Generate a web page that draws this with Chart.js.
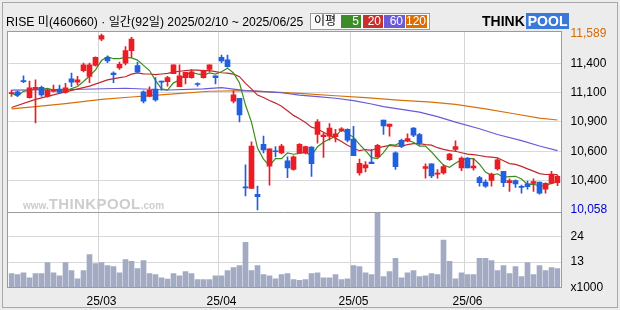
<!DOCTYPE html>
<html>
<head>
<meta charset="utf-8">
<script src="https://cdn.jsdelivr.net/npm/chart.js@4.4.1/dist/chart.umd.min.js"></script>
<style>
  html, body { margin: 0; padding: 0; background: #ececec; }
  #wrap { position: relative; width: 620px; height: 310px; overflow: hidden;
          font-family: "Liberation Sans", "Noto Sans CJK KR", sans-serif; }
  #frame { position: absolute; left: 2px; top: 2px; width: 616px; height: 306px;
           border: 1px solid #a8a8a8; box-sizing: border-box; }
  canvas { position: absolute; left: 0; top: 0; }
  #title { position: absolute; left: 6px; top: 14px; font-size: 12.2px; line-height: 16px;
           color: #000; white-space: nowrap; }
  #maLegend { position: absolute; left: 310px; top: 13px; width: 120px; height: 17px;
              border: 1px solid #9a9a9a; background: #fafafa; box-sizing: border-box; }
  #maLegend span { position: absolute; top: 1px; height: 13px; line-height: 13px; white-space: nowrap;
                   font-size: 12px; color: #fff; text-align: right; padding-right: 2px; box-sizing: border-box; }
  #maLegend .lbl { color: #000; left: 3px; width: 26px; text-align: left; padding: 0; }
  #logo { position: absolute; left: 482px; top: 14px; font-weight: bold; font-size: 14px;
          line-height: 14px; white-space: nowrap; }
  #logo .pool { background: #3b79d8; color: #fff; padding: 0 2px; margin-left: 1px; }
  #mark { position: absolute; left: 23px; top: 195px; color: #cdcdcd; white-space: nowrap;
          font-weight: bold; }
  #mark .s { font-size: 10px; }
  #mark .b { font-size: 15px; letter-spacing: 0.4px; }
</style>
</head>
<body>
<div id="wrap">
  <div id="frame"></div>
  <canvas id="chart" width="620" height="310"></canvas>
  <div id="title">RISE 미(460660) · 일간(92일) 2025/02/10 ~ 2025/06/25</div>
  <div id="maLegend">
    <span class="lbl">이평</span>
    <span style="left:30px;width:20px;background:#3c8c28">5</span>
    <span style="left:52px;width:20px;background:#c8302c">20</span>
    <span style="left:73px;width:21px;background:#6a5ad8">60</span>
    <span style="left:95px;width:21px;background:#dc6e00">120</span>
  </div>
  <div id="logo">THINK<span class="pool">POOL</span></div>
  <div id="mark"><span class="s">www.</span><span class="b">THINKPOOL</span><span class="s">.com</span></div>
</div>
<script>
// trading days 2025/02/10 ~ 2025/06/25 (92)
const dates = [
  '2025/02/10', '2025/02/11', '2025/02/12', '2025/02/13', '2025/02/14', '2025/02/17', '2025/02/18',
  '2025/02/19', '2025/02/20', '2025/02/21', '2025/02/24', '2025/02/25', '2025/02/26', '2025/02/27',
  '2025/02/28',
  '2025/03/04', '2025/03/05', '2025/03/06', '2025/03/07', '2025/03/10', '2025/03/11', '2025/03/12',
  '2025/03/13', '2025/03/14', '2025/03/17', '2025/03/18', '2025/03/19', '2025/03/20', '2025/03/21',
  '2025/03/24', '2025/03/25', '2025/03/26', '2025/03/27', '2025/03/28', '2025/03/31',
  '2025/04/01', '2025/04/02', '2025/04/03', '2025/04/04', '2025/04/07', '2025/04/08', '2025/04/09',
  '2025/04/10', '2025/04/11', '2025/04/14', '2025/04/15', '2025/04/16', '2025/04/17', '2025/04/18',
  '2025/04/21', '2025/04/22', '2025/04/23', '2025/04/24', '2025/04/25', '2025/04/28', '2025/04/29',
  '2025/04/30',
  '2025/05/02', '2025/05/07', '2025/05/08', '2025/05/09', '2025/05/12', '2025/05/13', '2025/05/14',
  '2025/05/15', '2025/05/16', '2025/05/19', '2025/05/20', '2025/05/21', '2025/05/22', '2025/05/23',
  '2025/05/26', '2025/05/27', '2025/05/28', '2025/05/29', '2025/05/30',
  '2025/06/02', '2025/06/04', '2025/06/05', '2025/06/09', '2025/06/10', '2025/06/11', '2025/06/12',
  '2025/06/13', '2025/06/16', '2025/06/17', '2025/06/18', '2025/06/19', '2025/06/20', '2025/06/23',
  '2025/06/24', '2025/06/25'
];

const opens = [
  11070, 11085, 11180, 11035, 11110, 11125, 11045, 11090, 11110, 11080,
  11200, 11170, 11270, 11220, 11315, 11545, 11385, 11250, 11295, 11335,
  11445, 11315, 11085, 11045, 11110, 11180, 11175, 11245, 11130, 11210,
  11210, 11155, 11210, 11280, 11225, 11385, 11365, 11005, 11030, 10255,
  10245, 10195, 10630, 10440, 10570, 10555, 10485, 10410, 10555, 10555,
  10605, 10715, 10695, 10700, 10695, 10750, 10760, 10675, 10380, 10425,
  10475, 10520, 10840, 10785, 10555, 10665, 10660, 10770, 10715, 10420,
  10460, 10370, 10380, 10495, 10585, 10425, 10510, 10425, 10340, 10300,
  10315, 10415, 10395, 10295, 10315, 10260, 10285, 10290, 10300, 10240,
  10290, 10295
];
const highs = [
  11100, 11095, 11225, 11180, 11190, 11135, 11105, 11145, 11145, 11160,
  11250, 11220, 11335, 11335, 11390, 11589, 11400, 11260, 11345, 11480,
  11560, 11345, 11095, 11130, 11210, 11180, 11220, 11320, 11320, 11255,
  11280, 11165, 11275, 11320, 11225, 11405, 11405, 11095, 11030, 10450,
  10650, 10265, 10700, 10590, 10610, 10630, 10520, 10530, 10635, 10615,
  10610, 10845, 10730, 10810, 10760, 10775, 10765, 10785, 10500, 10480,
  10585, 10630, 10840, 10805, 10565, 10675, 10720, 10775, 10725, 10460,
  10460, 10410, 10450, 10550, 10660, 10520, 10515, 10505, 10350, 10320,
  10380, 10505, 10395, 10330, 10320, 10275, 10310, 10330, 10300, 10295,
  10395, 10360
];
const lows = [
  11045, 11045, 11165, 11030, 10815, 11045, 11040, 11085, 11075, 11075,
  11130, 11145, 11260, 11165, 11310, 11530, 11340, 11165, 11280, 11320,
  11385, 11250, 10990, 11045, 11005, 11100, 11135, 11245, 11130, 11155,
  11205, 11135, 11205, 11260, 11155, 11340, 11300, 10990, 10825, 10180,
  10245, 10058, 10555, 10275, 10520, 10545, 10340, 10405, 10550, 10545,
  10350, 10640, 10515, 10665, 10650, 10740, 10650, 10530, 10360, 10390,
  10460, 10515, 10715, 10700, 10410, 10600, 10650, 10695, 10625, 10335,
  10340, 10335, 10370, 10490, 10565, 10400, 10425, 10405, 10265, 10255,
  10265, 10405, 10260, 10220, 10255, 10205, 10240, 10220, 10195, 10205,
  10285, 10270
];
const closes = [
  11075, 11060, 11175, 11120, 11125, 11060, 11100, 11105, 11080, 11120,
  11170, 11190, 11320, 11320, 11385, 11575, 11355, 11235, 11325, 11445,
  11545, 11260, 11005, 11100, 11015, 11170, 11210, 11320, 11225, 11255,
  11260, 11150, 11270, 11320, 11210, 11355, 11305, 11060, 10885, 10250,
  10615, 10175, 10580, 10590, 10565, 10615, 10425, 10520, 10630, 10610,
  10460, 10825, 10710, 10770, 10720, 10765, 10665, 10530, 10465, 10450,
  10460, 10620, 10790, 10805, 10435, 10610, 10680, 10710, 10640, 10435,
  10355, 10380, 10435, 10545, 10610, 10510, 10425, 10440, 10295, 10265,
  10370, 10495, 10295, 10315, 10285, 10255, 10260, 10305, 10205, 10290,
  10370, 10350
];
// volume, x1000
const volumes = [
  8.0, 7.6, 8.4, 6.2, 8.0, 8.0, 12.8, 8.4, 7.1, 12.8,
  9.3, 5.8, 9.3, 16.3, 12.4, 12.8, 11.5, 11.1, 8.4, 14.1,
  13.3, 10.2, 13.7, 8.0, 7.6, 6.2, 5.7, 8.0, 7.1, 8.9,
  8.0, 5.4, 5.4, 5.4, 7.1, 7.1, 9.3, 10.6, 11.5, 21.6,
  9.3, 11.5, 7.6, 7.1, 5.8, 7.6, 8.0, 5.4, 5.1, 5.4,
  8.0, 8.4, 6.2, 6.2, 7.6, 5.4, 5.8, 11.5, 11.1, 8.4,
  7.6, 34.3, 6.7, 8.9, 14.6, 6.2, 8.4, 9.3, 6.7, 7.1,
  8.0, 7.6, 22.5, 13.3, 5.8, 8.4, 7.6, 7.6, 14.6, 14.6,
  13.7, 9.3, 11.5, 8.0, 11.1, 6.7, 12.8, 7.6, 11.5, 9.3,
  10.6, 10.2
];

// moving averages (null = not read, line bridges it)
const ma5 = [
  11075, 11050, 11090, 11100, 11111, 11108, 11116, 11102, 11093, 11092,
  11114, 11132, 11176, 11224, 11277, 11358, 11391, 11374, 11375, 11386,
  11381, 11362, 11316, 11271, 11186, 11111, 11101, 11164, 11188, 11236,
  11254, 11242, 11232, 11251, 11241, 11261, 11292, 11250, 11163, 10971,
  10822, 10596, 10501, 10442, 10505, 10505, 10555, 10543, 10551, 10560,
  10529, 10608, 10647, 10675, 10697, 10757, 10726, 10690, 10629, 10575,
  10514, 10505, 10557, 10626, 10623, 10652, 10664, 10648, 10614, 10614,
  10563, 10504, 10449, 10430, 10465, 10496, 10505, 10506, 10456, 10388,
  10360, 10373, 10344, 10348, 10351, 10328, 10281, 10283, 10267, 10268,
  10291, 10308
];
const ma20 = [
  10950, null, null, null, 11020, null, null, null, null, 11085,
  null, null, null, 11135, null, null, 11190, null, 11210, 11217,
  11240, 11250, 11242, 11241, 11235, 11241, 11247, 11257, 11265, 11271,
  11276, 11274, 11271, 11271, 11262, 11252, 11249, 11240, 11218, 11159,
  11112, 11058, 11036, 11011, 10988, 10961, 10921, 10881, 10851, 10819,
  10779, 10763, 10735, 10707, 10683, 10653, 10621, 10595, 10574, 10584,
  10576, 10599, 10609, 10620, 10613, 10613, 10626, 10635, 10636, 10627,
  10622, 10600, 10586, 10575, 10569, 10556, 10544, 10540, 10532, 10522,
  10518, 10512, 10487, 10462, 10455, 10437, 10416, 10396, 10374, 10367,
  10367, 10366
];
const ma60 = [
  11100, null, null, null, null, null, null, null, null, null,
  11106, null, null, null, null, null, null, null, null, 11117,
  null, null, null, null, null, null, 11102, null, null, null,
  null, null, 11111, null, null, 11122, null, null, null, 11096,
  null, null, 11087, null, null, 11078, null, null, 11058, null,
  null, 11044, null, null, 11030, null, null, 11009, null, null,
  10980, null, 10957, null, null, 10934, null, null, 10910, null,
  null, 10870, null, null, 10823, null, null, null, 10765, null,
  null, 10715, null, null, null, 10662, null, null, 10615, null,
  null, 10575
];
const ma120 = [
  10937, null, null, null, 10958, null, null, null, null, 10984,
  null, null, null, null, null, 11021, null, null, null, null,
  11041, null, null, null, null, null, 11064, null, null, null,
  null, null, null, 11091, null, null, null, null, null, 11096,
  null, null, null, null, 11084, null, null, null, 11073, null,
  null, null, null, null, 11052, null, null, null, null, 11035,
  null, null, null, null, null, 11012, null, null, null, null,
  10997, null, null, null, 10977, null, null, null, null, 10937,
  null, null, null, null, 10893, null, null, null, 10858, null,
  null, 10841
];

// right axis: max/min of the period and the five rounded grid levels between
const priceTicks = [10058, 10313, 10568, 10824, 11079, 11334, 11589];
const priceTickLabels = ['10,058', '10,400', '10,600', '10,900', '11,100', '11,400', '11,589'];
const volTicks = [2, 13, 24];
const volTickLabels = ['x1000', '13', '24'];

const UP = '#ec1c24';
const DOWN = '#1f5fe2';
const candleColors = closes.map((c, i) => c >= opens[i] ? UP : DOWN);
const tickFont = { family: 'Liberation Sans', size: 12 };

function isMonthStart(i) {
    return i > 0 && i < dates.length && dates[i].slice(5, 7) !== dates[i - 1].slice(5, 7);
}

// white plot box, frame and the line between price and volume panels
const plotFrame = {
    id: 'plotFrame',
    beforeDraw(chart) {
        const a = chart.chartArea;
        const ctx = chart.ctx;
        ctx.save();
        ctx.fillStyle = '#ffffff';
        ctx.fillRect(a.left - 1, a.top - 0.5, a.right - a.left + 2.5, a.bottom - a.top + 0.5);
        ctx.restore();
    },
    afterDraw(chart) {
        const ctx = chart.ctx;
        const split = Math.round(chart.scales.y.bottom) + 0.5;
        ctx.save();
        ctx.strokeStyle = '#9c9c9c';
        ctx.lineWidth = 1;
        ctx.strokeRect(7.5, 31.5, 554, 256);
        ctx.beginPath();
        ctx.moveTo(7.5, split);
        ctx.lineTo(561.5, split);
        ctx.stroke();
        ctx.restore();
    }
};

new Chart(document.getElementById('chart'), {
    type: 'bar',
    data: {
        labels: dates,
        datasets: [
            {
                label: 'wick',
                data: highs.map((h, i) => [lows[i], h]),
                backgroundColor: candleColors,
                barThickness: 1,
                grouped: false,
                yAxisID: 'y',
                order: 2
            },
            {
                label: 'body',
                data: opens.map((o, i) => [o, closes[i]]),
                backgroundColor: candleColors,
                barThickness: 5,
                minBarLength: 1,
                grouped: false,
                yAxisID: 'y',
                order: 1
            },
            {
                label: 'volume',
                data: volumes,
                backgroundColor: '#a3abc4',
                barThickness: 5,
                grouped: false,
                yAxisID: 'vol',
                order: 3
            },
            { type: 'line', label: 'MA120', data: ma120, borderColor: '#d8700a', borderWidth: 1.2,
              pointRadius: 0, spanGaps: true, tension: 0, yAxisID: 'y', order: 8 },
            { type: 'line', label: 'MA60', data: ma60, borderColor: '#6a5ad8', borderWidth: 1.2,
              pointRadius: 0, spanGaps: true, tension: 0, yAxisID: 'y', order: 7 },
            { type: 'line', label: 'MA20', data: ma20, borderColor: '#c0282d', borderWidth: 1.2,
              pointRadius: 0, spanGaps: true, tension: 0, yAxisID: 'y', order: 6 },
            { type: 'line', label: 'MA5', data: ma5, borderColor: '#3c8c1c', borderWidth: 1.2,
              pointRadius: 0, spanGaps: true, tension: 0, yAxisID: 'y', order: 5 }
        ]
    },
    options: {
        responsive: false,
        animation: false,
        events: [],
        devicePixelRatio: 1,
        layout: { padding: { left: 8.5, top: 32, right: 0, bottom: 0 } },
        plugins: {
            legend: { display: false },
            tooltip: { enabled: false }
        },
        scales: {
            x: {
                type: 'category',
                offset: true,
                grid: {
                    offset: true,
                    drawTicks: false,
                    color: ctx => isMonthStart(ctx.index) ? '#d6d6d6' : 'rgba(0,0,0,0)'
                },
                border: { display: false },
                ticks: {
                    autoSkip: false,
                    maxRotation: 0,
                    padding: 7,
                    color: '#000',
                    font: tickFont,
                    callback: (v, i) => isMonthStart(i) ? dates[i].slice(2, 7) : ''
                },
                afterFit: s => { s.height = 22.5; }
            },
            y: {
                position: 'right',
                stack: 'panel',
                stackWeight: 180,
                min: 10040.6,
                max: 11606.4,
                grid: {
                    drawTicks: false,
                    color: ctx => (ctx.index === 0 || ctx.index === priceTicks.length - 1) ? 'rgba(0,0,0,0)' : '#d8d8d8'
                },
                border: { display: false },
                afterBuildTicks: s => { s.ticks = priceTicks.map(v => ({ value: v })); },
                ticks: {
                    autoSkip: false,
                    padding: 10,
                    font: tickFont,
                    color: ctx => ctx.index === 0 ? '#0000d0' : (ctx.index === priceTicks.length - 1 ? '#d86a00' : '#000'),
                    callback: (v, i) => priceTickLabels[i]
                },
                afterFit: s => { s.width = 59.5; }
            },
            vol: {
                position: 'right',
                stack: 'panel',
                stackWeight: 75.5,
                min: 2,
                max: 34.7,
                grid: {
                    drawTicks: false,
                    color: ctx => ctx.index === 0 ? 'rgba(0,0,0,0)' : '#d8d8d8'
                },
                border: { display: false },
                afterBuildTicks: s => { s.ticks = volTicks.map(v => ({ value: v })); },
                ticks: {
                    autoSkip: false,
                    padding: 10,
                    font: tickFont,
                    color: '#000',
                    callback: (v, i) => volTickLabels[i]
                },
                afterFit: s => { s.width = 59.5; }
            }
        }
    },
    plugins: [plotFrame]
});
</script>
</body>
</html>
